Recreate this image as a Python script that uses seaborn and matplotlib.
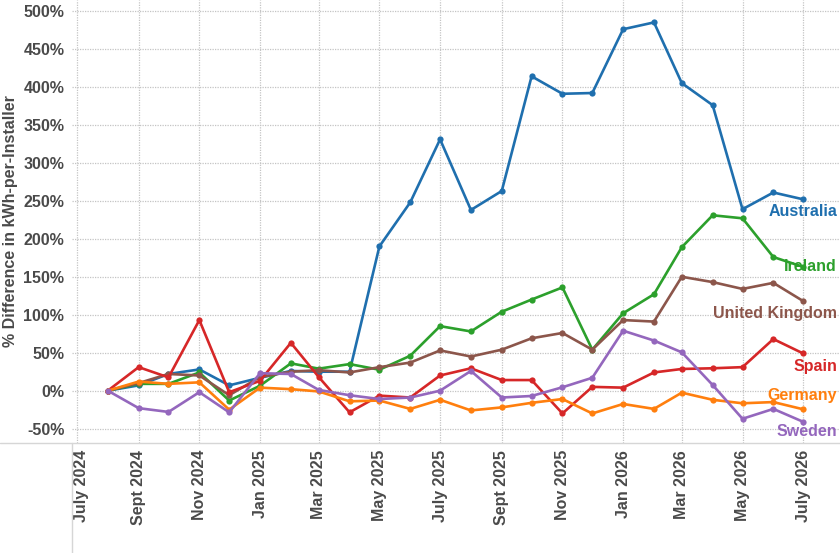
import numpy as np
import pandas as pd
import matplotlib
matplotlib.use("Agg")
import matplotlib.pyplot as plt
import matplotlib.transforms as mtransforms
from matplotlib.lines import Line2D
import seaborn as sns

# ---------------- data ----------------
months = pd.date_range("2024-08-01", periods=24, freq="MS")

australia = [0, 7, 22, 28, 7, 17, 26, 25, 25, 190, 248, 331, 238, 263, 414, 391,
             392, 476, 485, 405, 376, 239, 261, 252]
ireland = [0, 9, 9, 24, -13, 6.5, 36, 29, 35, 27.6, 46, 85, 78, 104, 120, 136,
           54, 102, 127, 189, 231, 227, 176, 163]
united_kingdom = [0, 10, 22, 20, -6, 18, 25, 27, 24, 31, 37, 53, 45, 54, 69, 76,
                  54, 93, 91, 150, 143, 134, 142, 118]
spain = [0, 31, 17.5, 93, -2, 13, 63, 18, -28.5, -6.5, -9, 20, 29.5, 14, 14, -30,
         5, 4, 24, 28.6, 29.5, 31, 68, 49]
germany = [0, 12, 9, 11, -25, 4, 2, -1, -14, -13, -24, -12, -26, -22, -16, -11,
           -30, -17.5, -24, -2.6, -12, -16.6, -15, -24.5]
sweden = [0, -23, -28, -2, -28.5, 23, 22, 1, -6, -11, -9, 0, 26, -9, -7, 4.5,
          17, 79, 66, 50.5, 7.5, -37, -24, -41]

countries = ["Australia", "Ireland", "United Kingdom", "Spain", "Germany", "Sweden"]
series = [australia, ireland, united_kingdom, spain, germany, sweden]

y_ticks = list(range(-50, 501, 50))
x_tick_dates = pd.date_range("2024-07-01", "2026-07-01", freq="2MS")
x_tick_labels = ["July 2024", "Sept 2024", "Nov 2024", "Jan 2025", "Mar 2025",
                 "May 2025", "July 2025", "Sept 2025", "Nov 2025", "Jan 2026",
                 "Mar 2026", "May 2026", "July 2026"]

# ---------------- styling ----------------
colors = {"Australia": "#1f6fae", "Ireland": "#2ca02c", "United Kingdom": "#8c564b",
          "Spain": "#d62728", "Germany": "#ff7f0e", "Sweden": "#9467bd"}
label_y = {"Australia": 235.7, "Ireland": 163, "United Kingdom": 102,
           "Spain": 32.5, "Germany": -7, "Sweden": -54}

sns.set_style("white")
plt.rcParams["font.family"] = ["Liberation Sans", "DejaVu Sans"]
plt.rcParams["font.weight"] = "bold"

df = pd.DataFrame({
    "month": np.tile(months, len(countries)),
    "value": np.concatenate([np.asarray(s, dtype=float) for s in series]),
    "country": np.repeat(countries, len(months)),
})

W, H = 840, 553
fig = plt.figure(figsize=(W / 100, H / 100), dpi=100)
left_px, axis_px, right_px = 72, 443, 840
ax = fig.add_axes([left_px / W, (H - axis_px) / H, (right_px - left_px) / W, axis_px / H])

sns.lineplot(data=df, x="month", y="value", hue="country", hue_order=countries,
             palette=colors, marker="o", markersize=4.5, markeredgewidth=0,
             linewidth=1.9, legend=False, ax=ax)

ax.set_xlim(pd.Timestamp("2024-06-26"), pd.Timestamp("2026-08-07"))
ax.set_ylim(-68.9, 514.5)

ax.set_yticks(y_ticks)
ax.set_yticklabels([f"{v}%" for v in y_ticks])
ax.set_xticks(x_tick_dates)
ax.set_xticklabels(x_tick_labels, rotation=90)

tick_color = "#4a4a4a"
ax.tick_params(axis="both", length=0, labelsize=11.5, labelcolor=tick_color)
ax.tick_params(axis="y", pad=5.5)
ax.tick_params(axis="x", pad=5)
for lbl in ax.get_xticklabels() + ax.get_yticklabels():
    lbl.set_fontweight("bold")

# first date label sits just right of the frame line
first = ax.get_xticklabels()[0]
first.set_transform(first.get_transform() +
                    mtransforms.ScaledTranslation(5 / 100, 0, fig.dpi_scale_trans))

ax.set_xlabel("")
ax.set_ylabel("% Difference in kWh-per-Installer", fontsize=11.5, fontweight="bold",
              color=tick_color, labelpad=4)

ax.grid(True, color="#c4c4c4", linestyle=(0, (1, 1)), linewidth=0.9)
ax.set_axisbelow(True)
for sp in ax.spines.values():
    sp.set_visible(False)

label_x = pd.Timestamp("2026-08-04")
for c in countries:
    ax.text(label_x, label_y[c], c, color=colors[c], fontsize=11.5, fontweight="bold",
            ha="right", va="center")

# table-style frame lines
yb = (H - axis_px) / H
fig.add_artist(Line2D([0, 1], [yb, yb], transform=fig.transFigure,
                      color="#d6d6d6", linewidth=1))
fig.add_artist(Line2D([left_px / W, left_px / W], [0, yb], transform=fig.transFigure,
                      color="#d6d6d6", linewidth=1))

fig.savefig("out.png", dpi=100, facecolor="white")
